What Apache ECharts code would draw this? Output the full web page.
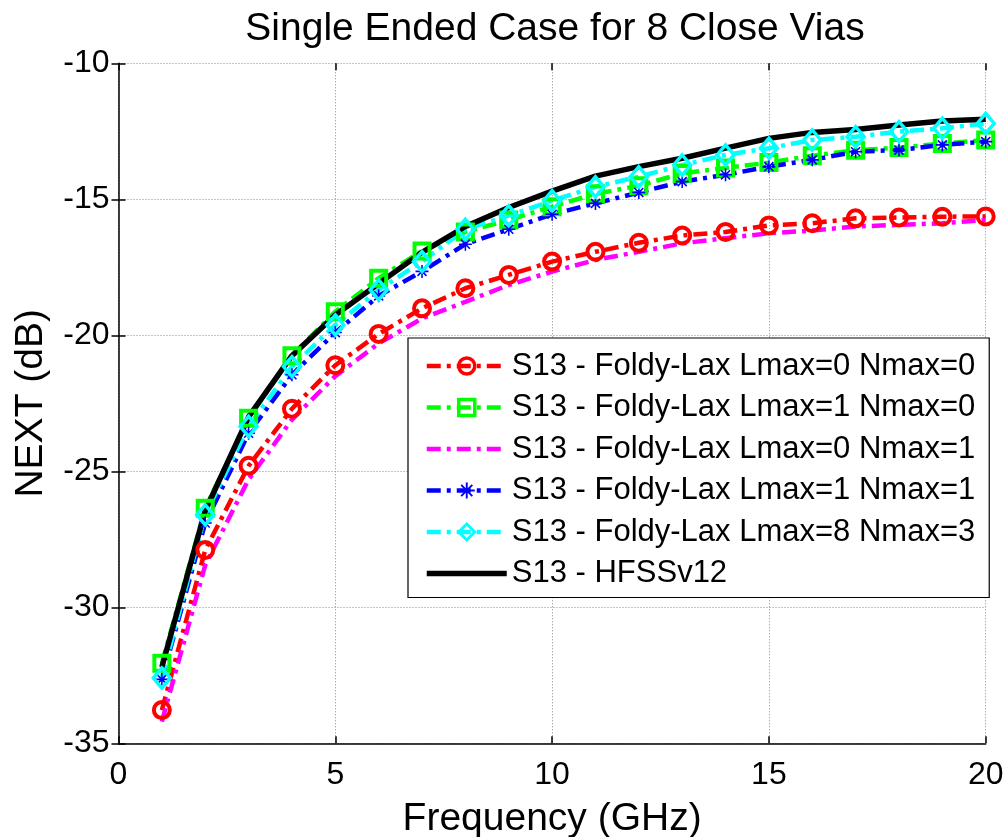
<!DOCTYPE html>
<html>
<head>
<meta charset="utf-8">
<title>Single Ended Case for 8 Close Vias</title>
<script src="https://cdn.jsdelivr.net/npm/echarts@6/dist/echarts.min.js"></script>
<style>
  html, body { margin: 0; padding: 0; background: #fff; }
  #chart { width: 1007px; height: 837px; }
</style>
</head>
<body>
<div id="chart"></div>
<script>
// Frequency points (GHz)
const freq = [1, 2, 3, 4, 5, 6, 7, 8, 9, 10, 11, 12, 13, 14, 15, 16, 17, 18, 19, 20];

// NEXT (dB) for each model
const flL0N0 = [-33.78, -27.89, -24.8, -22.7, -21.1, -19.95, -19.01, -18.27, -17.78, -17.29,
                -16.93, -16.6, -16.33, -16.2, -15.96, -15.88, -15.7, -15.67, -15.64, -15.63];
const flL1N0 = [-32.06, -26.36, -23.05, -20.75, -19.13, -17.9, -16.9, -16.2, -15.76, -15.27,
                -14.8, -14.5, -14.05, -13.85, -13.65, -13.4, -13.2, -13.1, -12.95, -12.82];
const flL0N1 = [-34.2, -28.45, -25.3, -23.1, -21.5, -20.3, -19.38, -18.77, -18.15, -17.66,
                -17.23, -16.93, -16.62, -16.43, -16.25, -16.15, -16.0, -15.94, -15.88, -15.76];
const flL1N1 = [-32.65, -26.9, -23.6, -21.45, -19.9, -18.55, -17.65, -16.65, -16.1, -15.55,
                -15.15, -14.75, -14.35, -14.1, -13.8, -13.55, -13.25, -13.19, -13.0, -12.88];
const flL8N3 = [-32.6, -26.6, -23.35, -21.15, -19.62, -18.33, -17.29, -16.1, -15.6, -15.05,
                -14.54, -14.17, -13.74, -13.37, -13.12, -12.82, -12.7, -12.51, -12.39, -12.21];
const hfss   = [-32.2, -26.45, -23.0, -20.75, -19.25, -18.1, -16.95, -16.0, -15.3, -14.7,
                -14.15, -13.8, -13.49, -13.12, -12.76, -12.54, -12.43, -12.27, -12.12, -12.06];

const seriesNames = [
  'S13 - Foldy-Lax Lmax=0 Nmax=0',
  'S13 - Foldy-Lax Lmax=1 Nmax=0',
  'S13 - Foldy-Lax Lmax=0 Nmax=1',
  'S13 - Foldy-Lax Lmax=1 Nmax=1',
  'S13 - Foldy-Lax Lmax=8 Nmax=3',
  'S13 - HFSSv12'
];

const FONT = "'Liberation Sans', Arial, sans-serif";
const DASH_DOT = [14, 6, 4, 6];
const LINE_W = 4.5;
// asterisk marker built from four filled bars
const ASTERISK = 'path://M8.8 0L11.2 0L11.2 20L8.8 20Z M0 8.8L20 8.8L20 11.2L0 11.2Z ' +
  'M2.2 3.9L3.9 2.2L17.8 16.1L16.1 17.8Z M16.1 2.2L17.8 3.9L3.9 17.8L2.2 16.1Z';

function pairs(ys) { return freq.map((f, i) => [f, ys[i]]); }

function makeSeries(name, ys, color, opts) {
  return Object.assign({
    name: name,
    type: 'line',
    data: pairs(ys),
    color: color,
    showAllSymbol: true,
    lineStyle: { color: color, width: LINE_W, type: DASH_DOT, cap: 'butt' },
    emphasis: { disabled: true },
    animation: false
  }, opts);
}

const series = [
  makeSeries(seriesNames[0], flL0N0, '#ff0000', {
    symbol: 'circle', symbolSize: 16,
    itemStyle: { color: 'rgba(255,255,255,0)', borderColor: '#ff0000', borderWidth: 4 }
  }),
  makeSeries(seriesNames[1], flL1N0, '#00ff00', {
    symbol: 'rect', symbolSize: 15,
    itemStyle: { color: 'rgba(255,255,255,0)', borderColor: '#00ff00', borderWidth: 4 }
  }),
  makeSeries(seriesNames[2], flL0N1, '#ff00ff', {
    symbol: 'none'
  }),
  makeSeries(seriesNames[3], flL1N1, '#0000ff', {
    symbol: ASTERISK, symbolSize: 13,
    itemStyle: { color: '#0000ff' }
  }),
  makeSeries(seriesNames[4], flL8N3, '#00ffff', {
    symbol: 'diamond', symbolSize: [17, 20],
    itemStyle: { color: 'rgba(255,255,255,0)', borderColor: '#00ffff', borderWidth: 3.5 }
  }),
  makeSeries(seriesNames[5], hfss, '#000000', {
    symbol: 'none',
    lineStyle: { color: '#000000', width: 5.5, type: 'solid' }
  })
];

// legend entries: line sample plus marker, no marker for the plain lines
const legendData = [
  { name: seriesNames[0], itemStyle: { borderWidth: 3.5 } },
  { name: seriesNames[1], itemStyle: { borderWidth: 3.5 } },
  { name: seriesNames[2], itemStyle: { opacity: 0 } },
  { name: seriesNames[3], itemStyle: { borderWidth: 0 } },
  { name: seriesNames[4], itemStyle: { borderWidth: 3 } },
  { name: seriesNames[5], itemStyle: { opacity: 0 }, lineStyle: { width: 5.5 } }
];

const axisText = { color: '#000', fontFamily: FONT, fontSize: 32 };
const gridLine = { show: true, lineStyle: { color: '#8a8a8a', width: 1, type: [1, 2] } };
const tickStyle = { show: true, inside: true, length: 7, lineStyle: { color: '#000', width: 1.5 } };

const chart = echarts.init(document.getElementById('chart'));
chart.setOption({
  backgroundColor: '#ffffff',
  animation: false,
  title: {
    text: 'Single Ended Case for 8 Close Vias',
    left: 550,
    textAlign: 'center',
    top: 5,
    textStyle: { color: '#000', fontFamily: FONT, fontSize: 39, fontWeight: 'normal' }
  },
  grid: {
    left: 118.5, right: 21.3, top: 63.3, bottom: 93.7,
    containLabel: false,
    outerBoundsMode: 'none'
  },
  legend: {
    orient: 'vertical',
    left: 408,
    top: 338,
    padding: [12, 14, 8, 16],
    itemGap: 9.5,
    itemWidth: 80,
    itemHeight: 20,
    backgroundColor: '#ffffff',
    borderColor: '#000000',
    borderWidth: 1.2,
    borderRadius: 0,
    selectedMode: false,
    lineStyle: { width: LINE_W },
    textStyle: { color: '#000', fontFamily: FONT, fontSize: 31, lineHeight: 32 },
    data: legendData
  },
  xAxis: [{
    type: 'value',
    min: 0, max: 20, interval: 5,
    name: 'Frequency (GHz)',
    nameLocation: 'middle',
    nameGap: 56,
    nameTextStyle: { color: '#000', fontFamily: FONT, fontSize: 39 },
    axisLine: { show: true, onZero: false, lineStyle: { color: '#000', width: 1.5 } },
    axisTick: tickStyle,
    axisLabel: Object.assign({ margin: 16 }, axisText),
    splitLine: gridLine
  }, {
    type: 'value',
    position: 'top',
    min: 0, max: 20, interval: 5,
    axisLine: { show: false },
    axisTick: tickStyle,
    axisLabel: { show: false },
    splitLine: { show: false }
  }],
  yAxis: [{
    type: 'value',
    min: -35, max: -10, interval: 5,
    name: 'NEXT (dB)',
    nameLocation: 'middle',
    nameGap: 68,
    nameTextStyle: { color: '#000', fontFamily: FONT, fontSize: 39 },
    axisLine: { show: true, onZero: false, lineStyle: { color: '#000', width: 1.5 } },
    axisTick: tickStyle,
    axisLabel: Object.assign({ margin: 9 }, axisText),
    splitLine: gridLine
  }, {
    type: 'value',
    position: 'right',
    min: -35, max: -10, interval: 5,
    axisLine: { show: false },
    axisTick: tickStyle,
    axisLabel: { show: false },
    splitLine: { show: false }
  }],
  series: series
});
</script>
</body>
</html>
